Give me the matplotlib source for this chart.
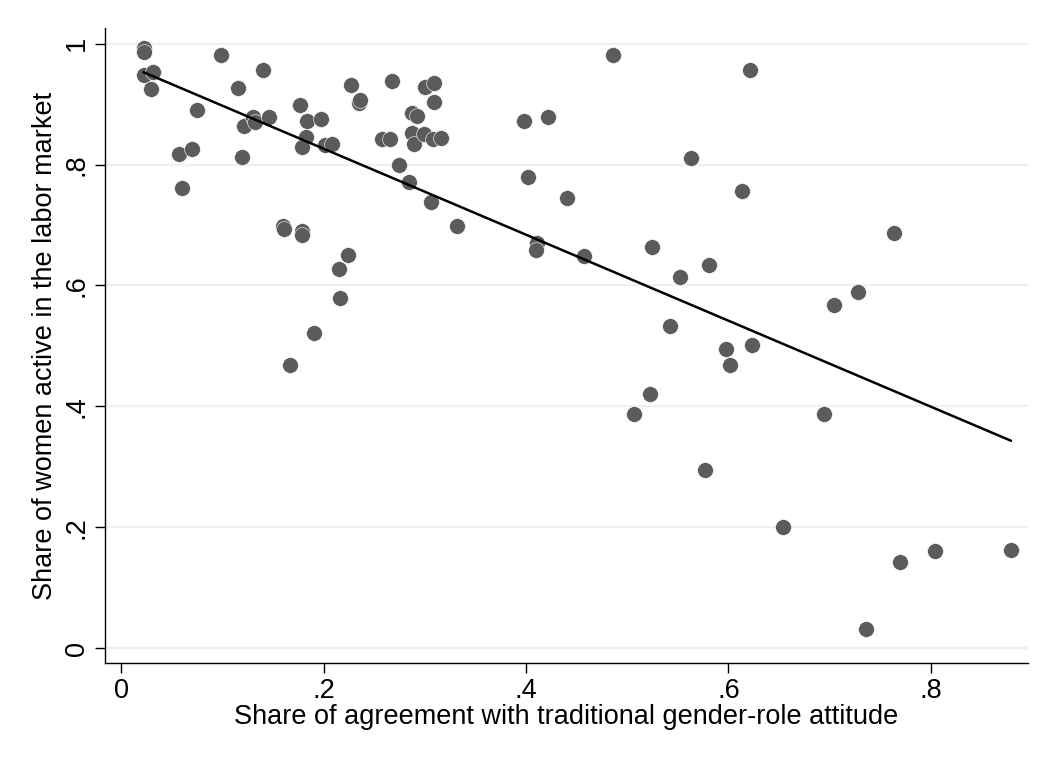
import numpy as np
import matplotlib
matplotlib.use('Agg')
import matplotlib.pyplot as plt

# share agreeing with traditional gender-role attitude (x) vs. share of women active (y)
attitude = [0.0225, 0.0225, 0.022, 0.031, 0.029, 0.098, 0.115, 0.140, 0.075, 0.057,
            0.070, 0.060, 0.121, 0.130, 0.132, 0.146, 0.119, 0.176, 0.183, 0.197,
            0.182, 0.178, 0.201, 0.208, 0.227, 0.235, 0.236, 0.267, 0.258, 0.265,
            0.274, 0.284, 0.287, 0.292, 0.287, 0.289, 0.299, 0.300, 0.309, 0.309,
            0.308, 0.316, 0.306, 0.332, 0.160, 0.161, 0.178, 0.178, 0.224, 0.215,
            0.216, 0.190, 0.167, 0.398, 0.422, 0.402, 0.411, 0.410, 0.440, 0.457,
            0.486, 0.563, 0.613, 0.621, 0.524, 0.552, 0.581, 0.542, 0.598, 0.601,
            0.623, 0.507, 0.522, 0.577, 0.654, 0.704, 0.728, 0.764, 0.694, 0.736,
            0.770, 0.804, 0.879]
active = [0.993, 0.987, 0.949, 0.954, 0.925, 0.981, 0.927, 0.956, 0.890, 0.817,
          0.826, 0.762, 0.864, 0.879, 0.870, 0.879, 0.813, 0.899, 0.873, 0.875,
          0.845, 0.829, 0.832, 0.834, 0.931, 0.902, 0.907, 0.939, 0.842, 0.842,
          0.800, 0.771, 0.886, 0.880, 0.853, 0.834, 0.850, 0.929, 0.935, 0.904,
          0.842, 0.844, 0.738, 0.699, 0.699, 0.693, 0.690, 0.684, 0.650, 0.627,
          0.580, 0.522, 0.469, 0.873, 0.879, 0.780, 0.671, 0.659, 0.745, 0.649,
          0.982, 0.811, 0.756, 0.957, 0.664, 0.614, 0.634, 0.533, 0.495, 0.468,
          0.502, 0.387, 0.420, 0.295, 0.200, 0.568, 0.589, 0.687, 0.387, 0.031,
          0.143, 0.161, 0.162]

xticks = [0, 0.2, 0.4, 0.6, 0.8]
xtick_labels = ['0', '.2', '.4', '.6', '.8']
yticks = [0, 0.2, 0.4, 0.6, 0.8, 1.0]
ytick_labels = ['0', '.2', '.4', '.6', '.8', '1']

plt.rcParams['font.family'] = ['Liberation Sans', 'DejaVu Sans']

x = np.array(attitude)
y = np.array(active)
slope, intercept = np.polyfit(x, y, 1)
xfit = np.array([x.min(), x.max()])

fig = plt.figure(figsize=(10.54, 7.65), dpi=100)
ax = fig.add_axes([0.0996, 0.1333, 0.8757, 0.830])

for t in yticks:
    ax.axhline(t, color='#eaf2f3', lw=1.6, zorder=0)

ax.scatter(x, y, s=130, color='#5b5b5b', edgecolors='white', linewidths=0.4, zorder=2)
ax.plot(xfit, intercept + slope * xfit, color='black', lw=1.8, zorder=3)

ax.set_xlim(-0.0163, 0.896)
ax.set_ylim(-0.0248, 1.026)
ax.set_xticks(xticks)
ax.set_xticklabels(xtick_labels)
ax.set_yticks(yticks)
ax.set_yticklabels(ytick_labels, rotation=90, va='center')

for side in ['top', 'right']:
    ax.spines[side].set_visible(False)
for side in ['left', 'bottom']:
    ax.spines[side].set_linewidth(1.0)

ax.tick_params(direction='out', length=7, width=1.0, labelsize=19.5, pad=4)
ax.set_xlabel('Share of agreement with traditional gender-role attitude', fontsize=19.5, labelpad=0)
ax.set_ylabel('Share of women active in the labor market', fontsize=19.5, labelpad=4)

fig.savefig('out.png', dpi=100)
